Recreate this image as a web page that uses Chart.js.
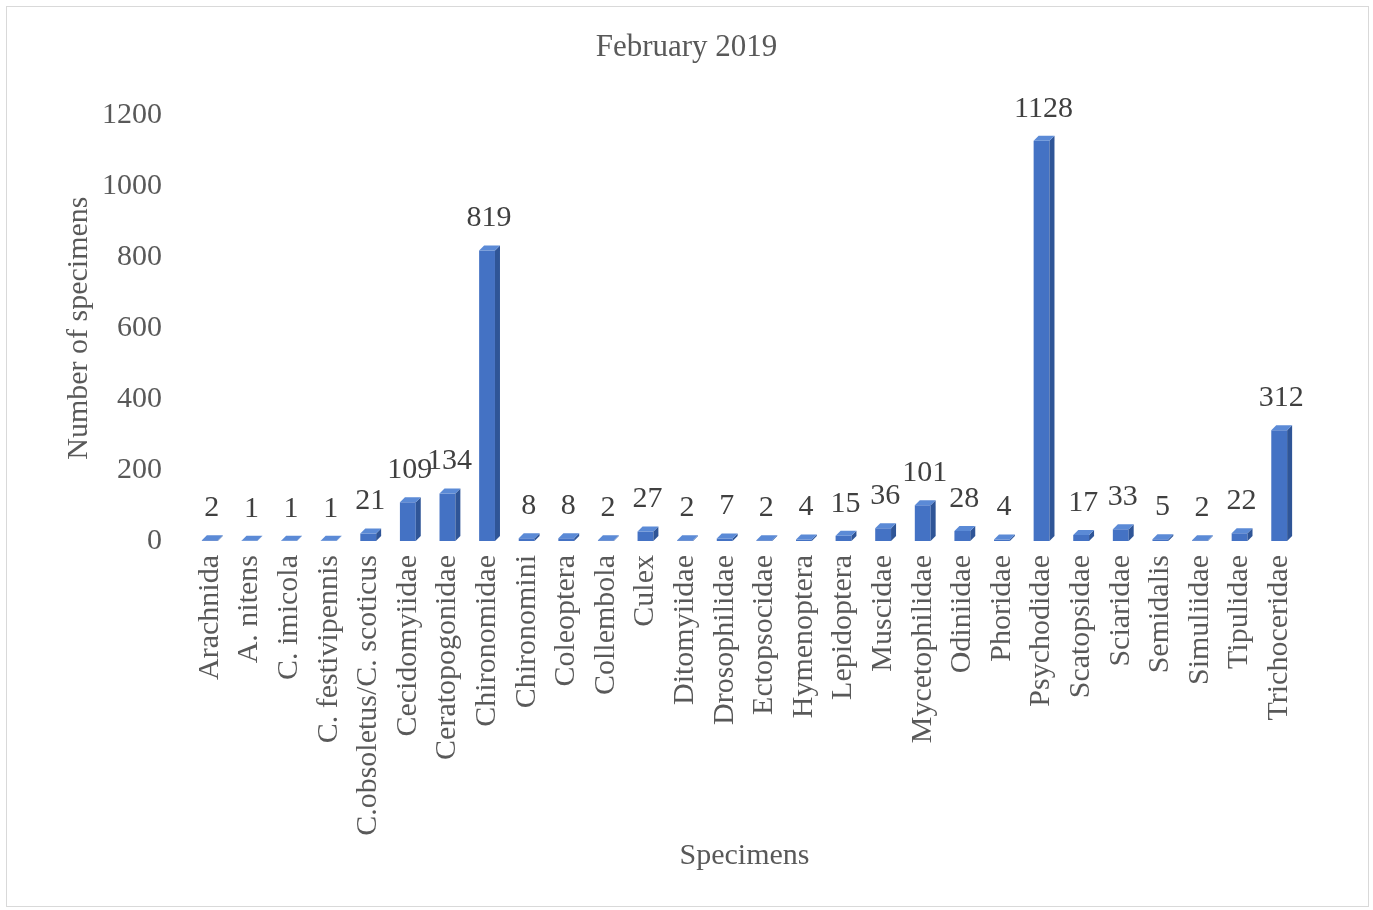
<!DOCTYPE html>
<html>
<head>
<meta charset="utf-8">
<script src="https://cdn.jsdelivr.net/npm/chart.js@4"></script>
<style>
  body { margin: 0; background: #fff; }
  #wrap { position: relative; width: 1373px; height: 910px; }
  #frame { position: absolute; left: 6px; top: 6px; width: 1361px; height: 899px;
           border: 1px solid #d9d9d9; pointer-events: none; }
</style>
</head>
<body>
<div id="wrap">
  <canvas id="chart" width="1373" height="910"></canvas>
  <div id="frame"></div>
</div>
<script>
var categories = ['Arachnida', 'A. nitens', 'C. imicola', 'C. festivipennis', 'C.obsoletus/C. scoticus',
    'Cecidomyiidae', 'Ceratopogonidae', 'Chironomidae', 'Chironomini', 'Coleoptera', 'Collembola',
    'Culex', 'Ditomyiidae', 'Drosophilidae', 'Ectopsocidae', 'Hymenoptera', 'Lepidoptera', 'Muscidae',
    'Mycetophilidae', 'Odiniidae', 'Phoridae', 'Psychodidae', 'Scatopsidae', 'Sciaridae', 'Semidalis',
    'Simuliidae', 'Tipulidae', 'Trichoceridae'];
var specimens = [2, 1, 1, 1, 21, 109, 134, 819, 8, 8, 2, 27, 2, 7, 2, 4, 15, 36, 101, 28, 4, 1128,
    17, 33, 5, 2, 22, 312];
var yTicks = [0, 200, 400, 600, 800, 1000, 1200];

var serif = "'Liberation Serif', 'Times New Roman', serif";

// fake 3D faces + value labels
var bars3d = {
    id: 'bars3d',
    afterDatasetsDraw: function(chart) {
        var ctx = chart.ctx;
        var meta = chart.getDatasetMeta(0);
        var d = 5;
        ctx.save();
        meta.data.forEach(function(bar, i) {
            var w = bar.width, l = bar.x - w / 2, r = bar.x + w / 2;
            var top = bar.y, base = bar.base;
            // side
            ctx.fillStyle = '#2f5597';
            ctx.beginPath();
            ctx.moveTo(r, base);
            ctx.lineTo(r + d, base - d);
            ctx.lineTo(r + d, top - d);
            ctx.lineTo(r, top);
            ctx.closePath();
            ctx.fill();
            // top
            ctx.fillStyle = '#5b8ad6';
            ctx.beginPath();
            ctx.moveTo(l, top);
            ctx.lineTo(l + d, top - d);
            ctx.lineTo(r + d, top - d);
            ctx.lineTo(r, top);
            ctx.closePath();
            ctx.fill();
            // label
            ctx.fillStyle = '#404040';
            ctx.font = '30px ' + serif;
            ctx.textAlign = 'center';
            ctx.textBaseline = 'middle';
            ctx.fillText(specimens[i], bar.x + 2, top - 32);
        });
        ctx.restore();
    }
};

new Chart(document.getElementById('chart'), {
    type: 'bar',
    data: {
        labels: categories,
        datasets: [{
            label: 'Specimens',
            data: specimens,
            backgroundColor: '#4472c4',
            barPercentage: 0.4,
            categoryPercentage: 1.0
        }]
    },
    options: {
        responsive: false,
        animation: false,
        layout: { padding: { left: 74, right: 74, top: 0, bottom: 32 } },
        plugins: {
            legend: { display: false },
            tooltip: { enabled: false },
            title: {
                display: true,
                text: 'February 2019',
                color: '#595959',
                font: { family: serif, size: 31, weight: 'normal' },
                padding: { top: 29, bottom: 49 }
            }
        },
        scales: {
            x: {
                grid: { display: false },
                border: { display: false },
                ticks: {
                    color: '#595959',
                    font: { family: serif, size: 30 },
                    minRotation: 90,
                    maxRotation: 90,
                    autoSkip: false,
                    padding: 6
                },
                title: {
                    display: true,
                    text: 'Specimens',
                    color: '#595959',
                    font: { family: serif, size: 30 }
                },
                afterFit: function(scale) { scale.height = 337; }
            },
            y: {
                min: 0,
                max: 1200,
                grid: { display: false },
                border: { display: false },
                afterBuildTicks: function(scale) {
                    scale.ticks = yTicks.map(function(v) { return { value: v }; });
                },
                ticks: {
                    color: '#595959',
                    font: { family: serif, size: 30 },
                    padding: 20,
                    callback: function(v) { return String(v); }
                },
                title: {
                    display: true,
                    text: 'Number of specimens',
                    color: '#595959',
                    font: { family: serif, size: 30 },
                    padding: { top: -13, bottom: 4 }
                },
                afterFit: function(scale) { scale.width = 116; }
            }
        }
    },
    plugins: [bars3d]
});
</script>
</body>
</html>
